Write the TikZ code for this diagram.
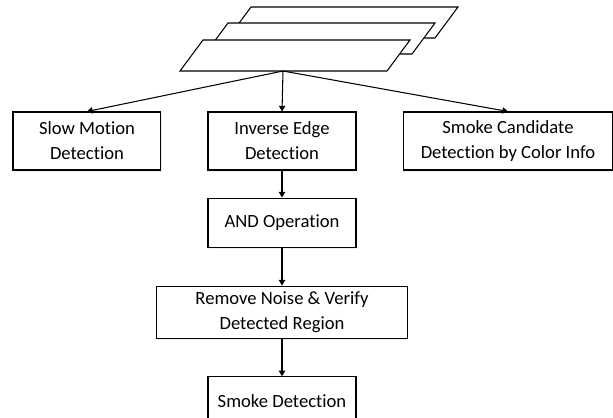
\documentclass[tikz,border=0pt]{standalone}
\usepackage{fontspec}
\setmainfont{Carlito}[Ligatures=NoCommon]
\usetikzlibrary{positioning, calc, arrows.meta, shadows}
\tikzset{
  % Flow chart
  stepbox/.style  = { draw, line width=0.6pt, fill=white, align=center,
                       minimum width=2.96cm, minimum height=0.98cm,
                       font=\fontsize{10.6}{14.2}\selectfont,
                       drop shadow={shadow xshift=0.5pt, shadow yshift=-0.9pt,
                                    fill=blue!40!gray, opacity=0.1} },
  widebox/.style  = { stepbox, minimum height=1.16cm },
  sheet/.style    = { draw, line width=0.6pt, fill=white, line join=miter },
  flow/.style     = { line width=0.6pt, -{Triangle[length=3.2pt, width=3.6pt]} }
}

\begin{document}
\begin{tikzpicture}[x=0.02cm, y=-0.02cm, node distance=0.54cm and 0.92cm]
  \useasboundingbox (0,0) rectangle (613,417);

  % stack of frames
  \foreach \sx/\sy in {228/38, 205/54, 180/71}
    \filldraw[sheet] (\sx,\sy) -- ++(207,0) -- ++(23,-31) -- ++(-207,0) -- cycle;
  \coordinate (stack) at (283,71);

  \node[widebox] (inverse) at (282,141) {Inverse Edge\\Detection};
  \node[widebox, left=of inverse] (slow) {Slow Motion\\Detection};
  \node[widebox, right=of inverse, minimum width=4.2cm] (color) {Smoke Candidate\\Detection by Color Info};
  \node[stepbox, below=of inverse] (and) {AND Operation};
  \node[stepbox, below=0.76cm of and, minimum width=5.02cm] (verify) {Remove Noise \& Verify\\Detected Region};
  \node[stepbox, below=0.74cm of verify] (smoke) {Smoke Detection};

  \draw[flow] (stack) -- (slow.north);
  \draw[flow] (stack) -- (inverse.north);
  \draw[flow] (stack) -- (color.north);
  \draw[flow] (inverse) -- (and);
  \draw[flow] (and) -- (verify);
  \draw[flow] (verify) -- (smoke);

\end{tikzpicture}
\end{document}
